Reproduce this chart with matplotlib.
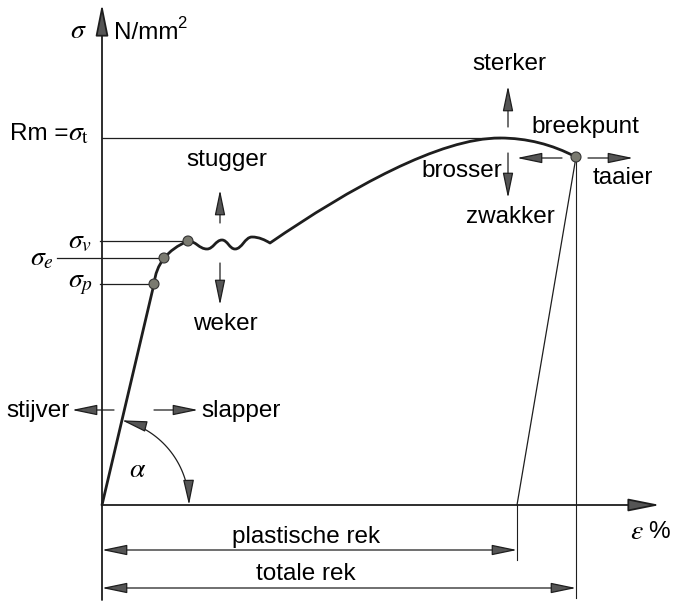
import numpy as np
import matplotlib
matplotlib.use("Agg")
import matplotlib.pyplot as plt
from matplotlib.path import Path
from matplotlib.patches import PathPatch, FancyArrowPatch, Circle

plt.rcParams['font.family'] = ['Liberation Sans', 'DejaVu Sans']
plt.rcParams['mathtext.fontset'] = 'stix'

# schematic in picture coordinates (x to the right, y downwards)
origin = (102, 505)
elastic = [(102, 505), (154, 284)]
transition_ctrl = [(157, 254), (188, 241)]
# extremes of the yield wobble, then the kink where hardening starts
wave_extrema = [(188, 241), (207, 249), (222, 240), (235, 249), (252, 237)]
wave_end = (270, 243)
hardening_ctrl = [(350, 188), (440, 138), (500, 138)]
necking_ctrl = [(540, 138), (576, 157)]

# characteristic points
points_x = [154, 164, 188, 576]
points_y = [284, 258, 241, 157]
point_labels = [r'$\sigma_p$', r'$\sigma_e$', r'$\sigma_v$']
label_left = [68, 30, 68]
level_start = [100, 57, 100]

Rm_level = 138
Rm_peak_x = 500
unload_end_x = 517
break_x = 576

sans = 17.5
greek = 20

fig = plt.figure(figsize=(6.74, 6.08), dpi=100)
ax = fig.add_axes([0, 0, 1, 1])
ax.set_xlim(0, 674)
ax.set_ylim(608, 0)
ax.axis('off')

line_col = '#1e1e1e'
head_col = '#555555'


def arrow(p0, p1, style='-|>', lw=0.9, hl=1.2, hw=0.25):
    a = FancyArrowPatch(p0, p1, arrowstyle=f'{style},head_length={hl},head_width={hw}',
                        mutation_scale=13, lw=lw, color=line_col, shrinkA=0, shrinkB=0)
    a.set_facecolor(head_col)
    ax.add_patch(a)


# axes
arrow((origin[0], 600), (origin[0], 4), lw=1.3, hl=1.5, hw=0.3)
arrow(origin, (660, origin[1]), lw=1.3, hl=1.5, hw=0.3)

# stress-strain curve
verts = [elastic[0], elastic[1], transition_ctrl[0], transition_ctrl[1]]
codes = [Path.MOVETO, Path.LINETO, Path.CURVE3, Path.CURVE3]
for p, q in zip(wave_extrema[:-1], wave_extrema[1:]):
    dx = q[0] - p[0]
    verts += [(p[0] + 0.42 * dx, p[1]), (q[0] - 0.42 * dx, q[1]), q]
    codes += [Path.CURVE4] * 3
last = wave_extrema[-1]
verts += [(last[0] + 7, last[1]), (wave_end[0] - 5, wave_end[1] - 3), wave_end]
codes += [Path.CURVE4] * 3
verts += hardening_ctrl
codes += [Path.CURVE4] * 3
verts += necking_ctrl
codes += [Path.CURVE3] * 2
ax.add_patch(PathPatch(Path(verts, codes), fc='none', ec=line_col, lw=2.0,
                       capstyle='round', joinstyle='round', zorder=3))

# reference levels
for x, y, lab, lx, sx in zip(points_x[:3], points_y[:3], point_labels, label_left, level_start):
    ax.plot([sx, x], [y, y], color=line_col, lw=0.9)
    ax.text(lx, y, lab, fontsize=greek, ha='left', va='center')
ax.plot([origin[0], Rm_peak_x], [Rm_level, Rm_level], color=line_col, lw=0.9)
ax.text(10, 134, 'Rm =', fontsize=sans, ha='left', va='center')
ax.text(68, 133, r'$\sigma_\mathrm{t}$', fontsize=greek, ha='left', va='center')

# unloading line and guides
ax.plot([break_x, unload_end_x], [points_y[3], origin[1]], color=line_col, lw=0.9)
ax.plot([break_x, break_x], [points_y[3], 598], color=line_col, lw=0.8)
ax.plot([unload_end_x, unload_end_x], [origin[1], 560], color=line_col, lw=0.8)

for x, y in zip(points_x, points_y):
    ax.add_patch(Circle((x, y), 5, fc='#7a7a70', ec='#333333', lw=0.8, zorder=4))

# axis labels
ax.text(78, 31, r'$\sigma$', fontsize=greek, ha='center', va='center')
ax.text(114, 33, 'N/mm', fontsize=sans, ha='left', va='center')
ax.text(177, 23, '2', fontsize=12, ha='left', va='center')
ax.text(644, 532, r'$\varepsilon$', fontsize=greek, ha='right', va='center')
ax.text(648, 532, '%', fontsize=sans, ha='left', va='center')

# elongation dimensions
arrow((102, 550), (517, 550), style='<|-|>', lw=0.9)
ax.text(306, 537, 'plastische rek', fontsize=sans, ha='center', va='center')
arrow((102, 588), (576, 588), style='<|-|>', lw=0.9)
ax.text(306, 574, 'totale rek', fontsize=sans, ha='center', va='center')

# modulus arrows
arrow((114, 410), (72, 410))
ax.text(6, 411, 'stijver', fontsize=sans, ha='left', va='center')
arrow((154, 410), (198, 410))
ax.text(201, 411, 'slapper', fontsize=sans, ha='left', va='center')

# angle alpha
r = 87
a0 = np.arctan2(elastic[1][1] - elastic[0][1], elastic[1][0] - elastic[0][0])
t = np.linspace(a0, 0, 40)
arc = Path(np.column_stack([origin[0] + r * np.cos(t), origin[1] + r * np.sin(t)]))
a = FancyArrowPatch(path=arc, arrowstyle='<|-|>,head_length=1.2,head_width=0.26',
                    mutation_scale=13, lw=0.9, color=line_col)
a.set_facecolor(head_col)
ax.add_patch(a)
ax.text(138, 470, r'$\alpha$', fontsize=greek, ha='center', va='center')

# yield arrows
arrow((220, 223), (220, 190))
ax.text(227, 160, 'stugger', fontsize=sans, ha='center', va='center')
arrow((220, 263), (220, 305))
ax.text(225, 324, 'weker', fontsize=sans, ha='center', va='center')

# strength / ductility arrows
arrow((508, 127), (508, 86))
ax.text(509, 64, 'sterker', fontsize=sans, ha='center', va='center')
arrow((508, 153), (508, 198))
ax.text(462, 171, 'brosser', fontsize=sans, ha='center', va='center')
ax.text(510, 217, 'zwakker', fontsize=sans, ha='center', va='center')
arrow((562, 158), (517, 158))
arrow((588, 158), (633, 158))
ax.text(623, 178, 'taaier', fontsize=sans, ha='center', va='center')
ax.text(585, 127, 'breekpunt', fontsize=sans, ha='center', va='center')

fig.savefig('out.png', dpi=100)
